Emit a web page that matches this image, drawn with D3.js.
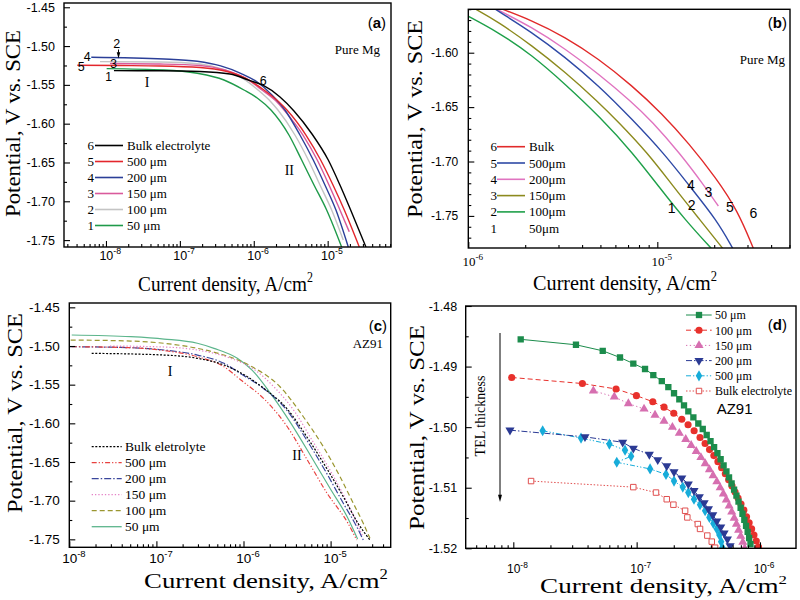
<!DOCTYPE html>
<html>
<head>
<meta charset="utf-8">
<script src="https://cdn.jsdelivr.net/npm/d3@7/dist/d3.min.js"></script>
<style>
  body { margin: 0; background: #fff; }
  svg { display: block; }
</style>
</head>
<body>
<svg id="fig" width="800" height="600"></svg>
<script>
// every curve point is [log10 of current density in A/cm2, potential in V vs SCE]

// (a) pure Mg, whole polarisation curves
const aNames = ["Bulk electrolyte", "500 \u03bcm", "200 \u03bcm", "150 \u03bcm", "100 \u03bcm", "50 \u03bcm"];
const aNums = ["6", "5", "4", "3", "2", "1"];
const aBulk = [[-7.892,-1.5317],[-7.269,-1.5318],[-6.728,-1.5327],[-6.322,-1.5360],[-6.051,-1.5446],[-5.871,-1.5508],[-5.645,-1.5656],[-5.456,-1.5836],[-5.212,-1.6133],[-4.992,-1.6468],[-4.834,-1.6790],[-4.689,-1.7112],[-4.482,-1.7589]];
const a500 = [[-8.388,-1.5247],[-7.811,-1.5251],[-7.269,-1.5256],[-6.728,-1.5276],[-6.390,-1.5321],[-6.119,-1.5411],[-5.862,-1.5566],[-5.659,-1.5720],[-5.551,-1.5824],[-5.294,-1.6146],[-5.095,-1.6468],[-4.928,-1.6790],[-4.775,-1.7112],[-4.572,-1.7589]];
const a200 = [[-8.199,-1.5144],[-7.215,-1.5166],[-6.765,-1.5196],[-6.448,-1.5256],[-6.177,-1.5351],[-5.953,-1.5463],[-5.754,-1.5630],[-5.578,-1.5824],[-5.375,-1.6146],[-5.195,-1.6468],[-5.037,-1.6790],[-4.888,-1.7112],[-4.721,-1.7589]];
const a150 = [[-7.946,-1.5224],[-7.269,-1.5231],[-6.728,-1.5250],[-6.390,-1.5308],[-6.119,-1.5411],[-5.889,-1.5566],[-5.686,-1.5720],[-5.591,-1.5824],[-5.334,-1.6146],[-5.141,-1.6468],[-4.982,-1.6790],[-4.834,-1.7112],[-4.708,-1.7392]];
const a100 = [[-8.081,-1.5201],[-7.269,-1.5205],[-6.728,-1.5231],[-6.390,-1.5308],[-6.160,-1.5411],[-5.943,-1.5566],[-5.767,-1.5720],[-5.673,-1.5824],[-5.443,-1.6146],[-5.262,-1.6468],[-5.104,-1.6790],[-4.946,-1.7112],[-4.789,-1.7499]];
const a50 = [[-7.991,-1.5291],[-7.215,-1.5308],[-6.765,-1.5351],[-6.403,-1.5437],[-6.133,-1.5566],[-5.953,-1.5669],[-5.767,-1.5824],[-5.524,-1.6146],[-5.352,-1.6468],[-5.185,-1.6790],[-5.014,-1.7112],[-4.811,-1.7589]];
const aXTicks = [1e-8, 1e-7, 1e-6, 1e-5];
const aYTicks = [-1.45, -1.50, -1.55, -1.60, -1.65, -1.70, -1.75];
const aYMinor = [-1.475, -1.525, -1.575, -1.625, -1.675, -1.725];

// (b) pure Mg, cathodic branch enlarged
const bNames = ["Bulk", "500\u03bcm", "200\u03bcm", "150\u03bcm", "100\u03bcm", "50\u03bcm"];
const bNums = ["6", "5", "4", "3", "2", "1"];
const bBulk = [[-5.906,-1.5543],[-5.850,-1.5580],[-5.665,-1.5702],[-5.488,-1.5856],[-5.312,-1.6055],[-5.135,-1.6300],[-4.975,-1.6560],[-4.830,-1.6840],[-4.690,-1.7150],[-4.575,-1.7450],[-4.492,-1.7798]];
const b500 = [[-5.906,-1.5543],[-5.850,-1.5610],[-5.665,-1.5810],[-5.488,-1.6040],[-5.312,-1.6300],[-5.135,-1.6609],[-4.965,-1.6925],[-4.827,-1.7231],[-4.686,-1.7537],[-4.601,-1.7798]];
const b200 = [[-5.917,-1.5543],[-5.850,-1.5601],[-5.665,-1.5764],[-5.488,-1.5963],[-5.312,-1.6193],[-5.135,-1.6453],[-5.030,-1.6628],[-4.880,-1.6925],[-4.748,-1.7231],[-4.677,-1.7409]];
const b150 = [[-6.012,-1.5552],[-5.965,-1.5596],[-5.841,-1.5718],[-5.665,-1.5932],[-5.488,-1.6177],[-5.312,-1.6453],[-5.211,-1.6628],[-5.049,-1.6925],[-4.915,-1.7231],[-4.774,-1.7537],[-4.654,-1.7798]];
const b100 = [[-6.012,-1.5654],[-5.843,-1.5810],[-5.663,-1.6021],[-5.488,-1.6288],[-5.303,-1.6591],[-5.129,-1.6922],[-4.991,-1.7234],[-4.853,-1.7537],[-4.715,-1.7798]];
const bXTicks = [1e-6, 1e-5];
const bYTicks = [-1.60, -1.65, -1.70, -1.75];
const bYMinor = [-1.56,-1.57,-1.58,-1.59,-1.61,-1.62,-1.63,-1.64,-1.66,-1.67,-1.68,-1.69,-1.71,-1.72,-1.73,-1.74,-1.76,-1.77];

// (c) AZ91, whole curves
const cNames = ["Bulk eletrolyte", "500 \u03bcm", "200 \u03bcm", "150 \u03bcm", "100 \u03bcm", "50 \u03bcm"];
const cBulk = [[-7.743,-1.5095],[-6.913,-1.5117],[-6.530,-1.5159],[-6.224,-1.5246],[-5.956,-1.5397],[-5.773,-1.5543],[-5.504,-1.5806],[-5.274,-1.6173],[-5.045,-1.6582],[-4.854,-1.6949],[-4.685,-1.7293],[-4.548,-1.7509]];
const c500 = [[-7.972,-1.5009],[-7.295,-1.5022],[-6.913,-1.5059],[-6.530,-1.5139],[-6.224,-1.5268],[-6.030,-1.5440],[-5.750,-1.5699],[-5.497,-1.6044],[-5.267,-1.6474],[-5.040,-1.6905],[-4.800,-1.7293],[-4.700,-1.7509]];
const c200 = [[-7.992,-1.5009],[-7.295,-1.5022],[-6.913,-1.5052],[-6.530,-1.5117],[-6.224,-1.5224],[-6.040,-1.5353],[-5.773,-1.5547],[-5.504,-1.5828],[-5.274,-1.6216],[-5.045,-1.6646],[-4.854,-1.7034],[-4.700,-1.7337],[-4.625,-1.7509]];
const c150 = [[-7.533,-1.5000],[-6.913,-1.5013],[-6.530,-1.5052],[-6.155,-1.5156],[-5.868,-1.5311],[-5.638,-1.5543],[-5.409,-1.5854],[-5.214,-1.6216],[-5.007,-1.6604],[-4.823,-1.6992],[-4.680,-1.7337],[-4.630,-1.7466]];
const c100 = [[-7.984,-1.4923],[-7.295,-1.4936],[-6.913,-1.4965],[-6.530,-1.5030],[-6.224,-1.5117],[-5.902,-1.5268],[-5.581,-1.5527],[-5.313,-1.5915],[-5.084,-1.6302],[-4.892,-1.6690],[-4.739,-1.7034],[-4.625,-1.7293],[-4.548,-1.7487]];
const c50 = [[-7.972,-1.4858],[-7.295,-1.4880],[-6.913,-1.4910],[-6.530,-1.4965],[-6.339,-1.5030],[-6.071,-1.5159],[-5.902,-1.5311],[-5.690,-1.5612],[-5.455,-1.6000],[-5.222,-1.6432],[-4.995,-1.6862],[-4.810,-1.7208],[-4.690,-1.7496]];
const cXTicks = [1e-8, 1e-7, 1e-6, 1e-5];
const cYTicks = [-1.45, -1.50, -1.55, -1.60, -1.65, -1.70, -1.75];
const cYMinor = [-1.475, -1.525, -1.575, -1.625, -1.675, -1.725];

// (d) AZ91, measured points near the corrosion potential
const dNames = ["50 \u03bcm", "100 \u03bcm", "150 \u03bcm", "200 \u03bcm", "500 \u03bcm", "Bulk electrolyte"];
const d50 = [[-7.940,-1.4855],[-7.492,-1.4864],[-7.275,-1.4874],[-7.135,-1.4885],[-7.027,-1.4895],[-6.932,-1.4904],[-6.865,-1.4914],[-6.796,-1.4924],[-6.743,-1.4934],[-6.697,-1.4944],[-6.654,-1.4954],[-6.616,-1.4964],[-6.581,-1.4974],[-6.540,-1.4984],[-6.500,-1.4994],[-6.464,-1.5003],[-6.432,-1.5013],[-6.401,-1.5023],[-6.372,-1.5033],[-6.345,-1.5043],[-6.319,-1.5053],[-6.295,-1.5063],[-6.272,-1.5073],[-6.251,-1.5083],[-6.230,-1.5093],[-6.210,-1.5103],[-6.191,-1.5113],[-6.174,-1.5123],[-6.157,-1.5133],[-6.142,-1.5143],[-6.127,-1.5153],[-6.113,-1.5163],[-6.100,-1.5173],[-6.088,-1.5183],[-6.077,-1.5193]];
const d100 = [[-8.013,-1.4918],[-7.440,-1.4928],[-7.167,-1.4937],[-7.002,-1.4948],[-6.869,-1.4958],[-6.778,-1.4967],[-6.699,-1.4977],[-6.634,-1.4987],[-6.583,-1.4996],[-6.534,-1.5006],[-6.486,-1.5017],[-6.445,-1.5027],[-6.409,-1.5037],[-6.374,-1.5047],[-6.341,-1.5057],[-6.311,-1.5067],[-6.281,-1.5077],[-6.254,-1.5087],[-6.227,-1.5097],[-6.202,-1.5107],[-6.178,-1.5117],[-6.154,-1.5127],[-6.131,-1.5137],[-6.109,-1.5148],[-6.088,-1.5158],[-6.068,-1.5168],[-6.049,-1.5178],[-6.030,-1.5188],[-6.012,-1.5198]];
const d150 = [[-7.351,-1.4940],[-7.181,-1.4950],[-7.067,-1.4961],[-6.940,-1.4970],[-6.851,-1.4980],[-6.778,-1.4990],[-6.710,-1.5000],[-6.654,-1.5010],[-6.602,-1.5020],[-6.558,-1.5030],[-6.517,-1.5040],[-6.479,-1.5050],[-6.444,-1.5060],[-6.410,-1.5070],[-6.380,-1.5080],[-6.350,-1.5090],[-6.323,-1.5100],[-6.297,-1.5110],[-6.273,-1.5120],[-6.250,-1.5130],[-6.229,-1.5140],[-6.209,-1.5150],[-6.191,-1.5160],[-6.173,-1.5170],[-6.156,-1.5180],[-6.139,-1.5190],[-6.124,-1.5200]];
const d200 = [[-8.027,-1.5005],[-7.419,-1.5016],[-7.113,-1.5025],[-7.027,-1.5035],[-6.897,-1.5045],[-6.829,-1.5054],[-6.756,-1.5064],[-6.697,-1.5074],[-6.634,-1.5084],[-6.581,-1.5094],[-6.535,-1.5105],[-6.492,-1.5115],[-6.453,-1.5125],[-6.418,-1.5135],[-6.383,-1.5145],[-6.350,-1.5155],[-6.318,-1.5165],[-6.291,-1.5175],[-6.264,-1.5185],[-6.242,-1.5196]];
const d500 = [[-7.762,-1.5006],[-7.451,-1.5018],[-7.221,-1.5028],[-7.094,-1.5038],[-7.045,-1.5048],[-7.161,-1.5058],[-6.891,-1.5069],[-6.762,-1.5078],[-6.697,-1.5089],[-6.626,-1.5099],[-6.581,-1.5108],[-6.535,-1.5119],[-6.486,-1.5128],[-6.445,-1.5138],[-6.410,-1.5149],[-6.378,-1.5159],[-6.350,-1.5168],[-6.329,-1.5178],[-6.315,-1.5189],[-6.305,-1.5199]];
const dBulk = [[-7.856,-1.5089],[-7.027,-1.5099],[-6.843,-1.5108],[-6.756,-1.5119],[-6.702,-1.5128],[-6.607,-1.5138],[-6.589,-1.5149],[-6.504,-1.5160],[-6.486,-1.5168],[-6.427,-1.5179],[-6.391,-1.5189],[-6.364,-1.5199]];
const dXTicks = [1e-8, 1e-7, 1e-6];
const dYTicks = [-1.48, -1.49, -1.50, -1.51, -1.52];
const dYMinor = [-1.485, -1.495, -1.505, -1.515];

const serif = "'Liberation Serif','Times New Roman',serif";
const sans = "'Liberation Sans',Arial,sans-serif";
const svg = d3.select("#fig");

function panel(id, box, xDom, yDom) {
  const x = d3.scaleLog().domain(xDom).range([box.l, box.r]);
  const y = d3.scaleLinear().domain(yDom).range([box.b, box.t]);
  const g = svg.append("g").attr("id", id);
  g.append("clipPath").attr("id", "clip-" + id).append("rect")
    .attr("x", box.l).attr("y", box.t).attr("width", box.r - box.l).attr("height", box.b - box.t);
  const plot = g.append("g").attr("clip-path", "url(#clip-" + id + ")");
  return { g, plot, x, y, box };
}

function axes(p, o) {
  const { g, x, y, box } = p;
  const isMajor = v => Math.abs(Math.log10(v) - Math.round(Math.log10(v))) < 1e-6;
  const bx = g.append("g").attr("transform", "translate(0," + box.b + ")");
  bx.append("g").call(d3.axisBottom(x).tickValues(x.ticks().filter(v => !isMajor(v)))
    .tickSizeInner(-3).tickSizeOuter(0).tickFormat(""));
  const mx = bx.append("g").call(d3.axisBottom(x).tickValues(o.xTicks).tickSizeInner(-6).tickSizeOuter(0));
  mx.selectAll(".tick text").each(function (d) {
    const t = d3.select(this).text(null)
      .attr("y", o.xLabelY).attr("dy", null).attr("dx", o.xSize * 0.3)
      .attr("font-family", o.xFont).attr("font-size", o.xSize);
    t.append("tspan").text("10");
    t.append("tspan").attr("dy", -o.xSize * 0.45).attr("font-size", o.xSize * 0.7)
      .text(Math.round(Math.log10(d)));
  });
  bx.selectAll(".domain").remove();

  const ly = g.append("g").attr("transform", "translate(" + box.l + ",0)");
  ly.append("g").call(d3.axisLeft(y).tickValues(o.yMinor).tickSizeInner(-3).tickSizeOuter(0).tickFormat(""));
  const my = ly.append("g").call(d3.axisLeft(y).tickValues(o.yTicks).tickSizeInner(-6).tickSizeOuter(0)
    .tickPadding(o.yPad).tickFormat(d => d.toFixed(2)));
  my.selectAll(".tick text").attr("font-family", sans).attr("font-size", o.ySize);
  ly.selectAll(".domain").remove();
  g.selectAll(".tick line").attr("stroke-width", 1.1);

  g.append("rect").attr("x", box.l).attr("y", box.t)
    .attr("width", box.r - box.l).attr("height", box.b - box.t)
    .attr("fill", "none").attr("stroke", "#000").attr("stroke-width", 1.4);
}

function curve(p, data, color, width, dash, interp) {
  const line = d3.line()
    .x(d => p.x(Math.pow(10, d[0])))
    .y(d => p.y(d[1]))
    .curve(interp || d3.curveMonotoneX);
  p.plot.append("path").datum(data).attr("d", line)
    .attr("fill", "none").attr("stroke", color).attr("stroke-width", width)
    .attr("stroke-dasharray", dash || null);
}

function symbolPath(type, size) {
  return d3.symbol().type(type).size(size)();
}

function markers(p, data, m) {
  p.plot.append("g").selectAll("path").data(data).join("path")
    .attr("d", symbolPath(m.type, m.size))
    .attr("transform", d => "translate(" + p.x(Math.pow(10, d[0])) + "," + p.y(d[1]) + ")" + (m.flip ? " rotate(180)" : ""))
    .attr("fill", m.open ? "#fff" : m.color)
    .attr("stroke", m.open ? m.color : "none").attr("stroke-width", 1);
}

function text(x, y, str, font, size, anchor, weight) {
  return svg.append("text").attr("x", x).attr("y", y).attr("font-family", font)
    .attr("font-size", size).attr("text-anchor", anchor || "start")
    .attr("font-weight", weight || null).text(str);
}

// axis title squeezed or stretched to the width seen in the figure
function title(cx, cy, size, width, vertical, str, sup) {
  const t = svg.append("text").attr("font-family", serif).attr("font-size", size).attr("text-anchor", "middle");
  t.append("tspan").text(str);
  if (sup) t.append("tspan").attr("dy", -size * 0.42).attr("font-size", size * 0.62).text(sup);
  const s = width / t.node().getComputedTextLength();
  t.attr("transform", "translate(" + cx + "," + cy + ")" + (vertical ? " rotate(-90)" : "") + " scale(" + s + ",1)");
}

function tag(xRight, y, letter) {
  const t = svg.append("text").attr("x", xRight).attr("y", y).attr("text-anchor", "end")
    .attr("font-family", sans).attr("font-size", 15);
  t.append("tspan").text("(");
  t.append("tspan").attr("font-weight", "bold").text(letter);
  t.append("tspan").text(")");
}

function arrowDown(x, y0, y1, head) {
  svg.append("line").attr("x1", x).attr("x2", x).attr("y1", y0).attr("y2", y1 - head * 1.6)
    .attr("stroke", "#000").attr("stroke-width", 1);
  svg.append("path").attr("d", d3.line()([[x - head * 0.5, y1 - head * 1.8], [x + head * 0.5, y1 - head * 1.8], [x, y1]]))
    .attr("fill", "#000");
}

// ---------- (a) ----------
const pa = panel("a", { l: 64, t: 3, r: 391, b: 247 }, [Math.pow(10, -8.568), Math.pow(10, -4.143)], [-1.7589, -1.4445]);
axes(pa, { xTicks: aXTicks, xLabelY: 13, xFont: sans, xSize: 12.5, yTicks: aYTicks, yMinor: aYMinor, yPad: 9, ySize: 12.5 });
const aColors = ["#000000", "#e3262c", "#2b3f98", "#d95a9c", "#c4c4c4", "#1f9a4a"];
const aSeries = [aBulk, a500, a200, a150, a100, a50];
[5, 4, 3, 2, 1, 0].forEach(i => curve(pa, aSeries[i], aColors[i], 1.4));
aNames.forEach((n, i) => {
  const yy = 145.5 + i * 16;
  text(94, yy + 4.5, aNums[i], serif, 13, "end");
  svg.append("line").attr("x1", 95).attr("x2", 123).attr("y1", yy).attr("y2", yy)
    .attr("stroke", aColors[i]).attr("stroke-width", 1.6);
  text(127, yy + 4.5, n, serif, 13);
});
text(116.7, 48, "2", sans, 12.5, "middle");
arrowDown(118.5, 49.5, 58.5, 3.5);
text(87.3, 61, "4", sans, 12.5, "middle");
text(81.3, 70.5, "5", sans, 12.5, "middle");
text(113.5, 67.5, "3", sans, 12, "middle");
text(108.5, 81, "1", sans, 12, "middle");
text(263.3, 84.5, "6", sans, 12.5, "middle");
text(147, 87, "I", serif, 14, "middle");
text(289.3, 175, "II", serif, 14, "middle");
text(380, 54, "Pure Mg", serif, 13, "end");
tag(386, 28, "a");
title(225.5, 291, 22, 175, false, "Current density, A/cm", "2");
title(20, 123.5, 21.5, 187, true, "Potential, V vs. SCE");

// ---------- (b) ----------
const pb = panel("b", { l: 468.3, t: 9.3, r: 790, b: 248 }, [1e-6, Math.pow(10, -4.298)], [-1.7795, -1.5601]);
axes(pb, { xTicks: bXTicks, xLabelY: 18, xFont: serif, xSize: 13, yTicks: bYTicks, yMinor: bYMinor, yPad: 10, ySize: 12 });
const bColors = ["#e12a2a", "#2f4aa6", "#e074c0", "#8c8a1e", "#1fa04a"];
const bSeries = [bBulk, b500, b200, b150, b100];
[4, 3, 2, 1, 0].forEach(i => curve(pb, bSeries[i], bColors[i], 1.4, null, d3.curveBasis));
bNames.forEach((n, i) => {
  const yy = 146.7 + i * 16.3;
  text(497, yy + 4.5, bNums[i], serif, 13, "end");
  if (i < bColors.length) {
    svg.append("line").attr("x1", 497).attr("x2", 525).attr("y1", yy).attr("y2", yy)
      .attr("stroke", bColors[i]).attr("stroke-width", 1.6);
  }
  text(529, yy + 4.5, n, serif, 13);
});
text(691, 190, "4", sans, 14, "middle");
text(708.3, 196.5, "3", sans, 14, "middle");
text(730, 211.5, "5", sans, 14, "middle");
text(753.3, 217.5, "6", sans, 14, "middle");
text(691.7, 210, "2", sans, 14, "middle");
text(671.7, 213, "1", sans, 14, "middle");
text(785, 64, "Pure Mg", serif, 13, "end");
tag(787, 28, "b");
title(625, 290, 22, 184, false, "Current density, A/cm", "2");
title(421.7, 119, 22, 198, true, "Potential, V vs. SCE");

// ---------- (c) ----------
const pc = panel("c", { l: 69.3, t: 303, r: 390.7, b: 547.3 }, [1e-8, Math.pow(10, -4.310)], [-1.7603, -1.4444]);
axes(pc, { xTicks: cXTicks, xLabelY: 16, xFont: sans, xSize: 13.5, yTicks: cYTicks, yMinor: cYMinor, yPad: 9.5, ySize: 13.5 });
const cColors = ["#000000", "#e8413f", "#3a469c", "#e582c6", "#9a9630", "#5cb58c"];
const cDash = ["2,1.6", "5,2,1.2,2,1.2,2", "7,2,1.5,2", "1.3,2", "5,3", null];
const cSeries = [cBulk, c500, c200, c150, c100, c50];
[5, 4, 3, 2, 1, 0].forEach(i => curve(pc, cSeries[i], cColors[i], 1.2, cDash[i]));
cNames.forEach((n, i) => {
  const yy = 446.7 + i * 16;
  svg.append("line").attr("x1", 91.7).attr("x2", 121.7).attr("y1", yy).attr("y2", yy)
    .attr("stroke", cColors[i]).attr("stroke-width", 1.3).attr("stroke-dasharray", cDash[i]);
  text(125, yy + 4.5, n, serif, 13.5);
});
text(170, 376, "I", serif, 14, "middle");
text(297, 460, "II", serif, 14, "middle");
text(383, 348, "AZ91", serif, 13, "end");
tag(387, 331, "c");
title(266, 588, 22, 244, false, "Current density, A/cm", "2");
title(21.7, 413, 22, 200, true, "Potential, V vs. SCE");

// ---------- (d) ----------
const pd = panel("d", { l: 465.7, t: 306, r: 796, b: 548.3 }, [Math.pow(10, -8.386), Math.pow(10, -5.708)], [-1.52, -1.48]);
axes(pd, { xTicks: dXTicks, xLabelY: 25, xFont: sans, xSize: 12, yTicks: dYTicks, yMinor: dYMinor, yPad: 8.5, ySize: 12.5 });
const dColors = ["#1c8c4c", "#e8312c", "#d66fb0", "#2b3a94", "#17acd9", "#e05050"];
const dDash = [null, "5,3", "1.3,2.5", "6,2,1.5,2", "5,2,1.3,2,1.3,2", "1.5,1.8"];
const dMarks = [
  { type: d3.symbolSquare, size: 40 },
  { type: d3.symbolCircle, size: 40 },
  { type: d3.symbolTriangle, size: 36 },
  { type: d3.symbolTriangle, size: 36, flip: true },
  { type: d3.symbolDiamond, size: 36 },
  { type: d3.symbolSquare, size: 30, open: true }
];
const dSeries = [d50, d100, d150, d200, d500, dBulk];
[5, 4, 3, 2, 1, 0].forEach(i => curve(pd, dSeries[i], dColors[i], 1, dDash[i], d3.curveLinear));
[5, 4, 3, 2, 1, 0].forEach(i => markers(pd, dSeries[i], Object.assign({ color: dColors[i] }, dMarks[i])));
dNames.forEach((n, i) => {
  const yy = 315 + i * 15.2;
  svg.append("line").attr("x1", 686).attr("x2", 711.7).attr("y1", yy).attr("y2", yy)
    .attr("stroke", dColors[i]).attr("stroke-width", 1).attr("stroke-dasharray", dDash[i]);
  const m = dMarks[i];
  svg.append("path").attr("d", symbolPath(m.type, m.size))
    .attr("transform", "translate(699," + yy + ")" + (m.flip ? " rotate(180)" : ""))
    .attr("fill", m.open ? "#fff" : dColors[i]).attr("stroke", m.open ? dColors[i] : "none");
  text(715, yy + 4.3, n, serif, 12);
});
text(716.7, 414, "AZ91", sans, 15);
tag(787, 330, "d");
svg.append("text").attr("font-family", serif).attr("font-size", 14).attr("text-anchor", "middle")
  .attr("transform", "translate(485,416) rotate(-90)").text("TEL thickness");
arrowDown(500, 333, 502, 4);
title(663.5, 593, 20.5, 247, false, "Current density, A/cm", "2");
title(424, 427.5, 22, 205, true, "Potential, V vs. SCE");
</script>
</body>
</html>
